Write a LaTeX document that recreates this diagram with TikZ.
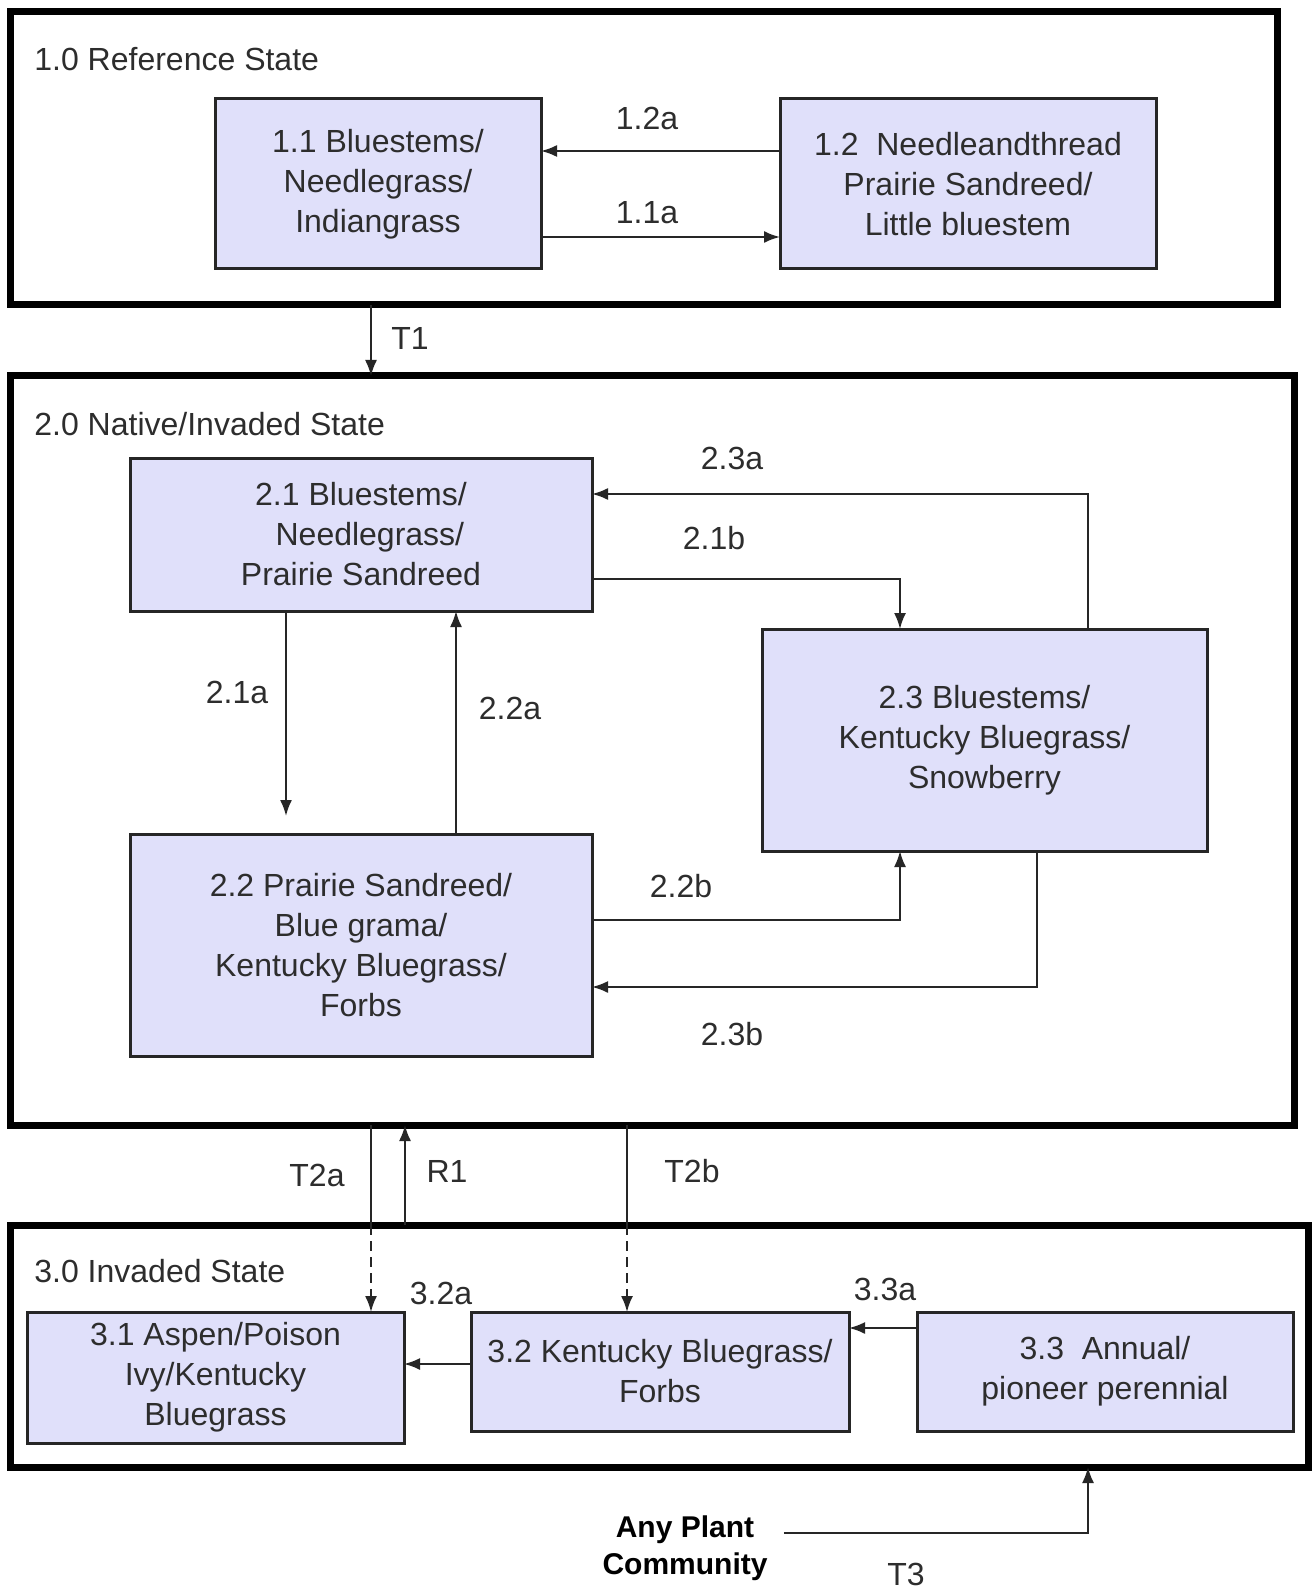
\documentclass[tikz,border=0pt]{standalone}
\usepackage{fontspec}
\setmainfont{Liberation Sans}
\usetikzlibrary{arrows.meta,calc}
\definecolor{boxfill}{RGB}{224,224,250}
\definecolor{txt}{RGB}{45,45,45}
\begin{document}
\begin{tikzpicture}[x=0.5pt,y=-0.5pt,
  every node/.style={text=txt, font=\fontsize{16}{20}\selectfont},
  state/.style={draw=black, line width=3.5pt, inner sep=0pt, outer sep=0pt},
  comm/.style={draw=black!85, fill=boxfill, line width=1.5pt, align=center, inner sep=0pt, outer sep=0pt},
  arr/.style={draw=black!85, line width=1pt, -{Latex[length=8pt,width=6pt]}},
  ln/.style={draw=black!85, line width=1pt},
  dsh/.style={arr, dashed, dash pattern=on 5pt off 3pt},
  lbl/.style={inner sep=0pt},
  title/.style={anchor=west, inner sep=0pt}]
\fill[white] (0,0) rectangle (1312,1593);
\useasboundingbox (0,0) rectangle (1312,1593);

% state boxes
\node[state, minimum width=633.5pt, minimum height=146.5pt] (s1) at (643.5,158.5) {};
\node[state, minimum width=642pt, minimum height=374.5pt] (s2) at (652,750.5) {};
\node[state, minimum width=649pt, minimum height=121pt] (s3) at (659,1346) {};

\node[title] (t1) at (34,59) {1.0 Reference State};
\node[title] (t2) at (34,424) {2.0 Native/Invaded State};
\node[title] (t3) at (34,1271) {3.0 Invaded State};

% community boxes
\node[comm, minimum width=163pt, minimum height=85pt] (b11) at (378,184) {1.1 Bluestems/\\Needlegrass/\\Indiangrass};
\node[comm, minimum width=188pt, minimum height=85pt] (b12) at (968,184) {1.2 \ Needleandthread\\Prairie Sandreed/\\Little bluestem};
\node[comm, minimum width=231pt, minimum height=76.5pt] (b21) at (361,534.5) {2.1 Bluestems/\\\ \ Needlegrass/\\Prairie Sandreed};
\node[comm, minimum width=231pt, minimum height=111pt] (b22) at (361,945) {2.2 Prairie Sandreed/\\Blue grama/\\Kentucky Bluegrass/\\Forbs};
\node[comm, minimum width=222.5pt, minimum height=111pt] (b23) at (984.5,740) {2.3 Bluestems/\\Kentucky Bluegrass/\\Snowberry};
\node[comm, minimum width=188.5pt, minimum height=65.5pt] (b31) at (215.5,1377.5) {3.1 Aspen/Poison\\Ivy/Kentucky\\Bluegrass};
\node[comm, minimum width=189pt, minimum height=59.5pt] (b32) at (660,1371.5) {3.2 Kentucky Bluegrass/\\Forbs};
\node[comm, minimum width=188pt, minimum height=59.5pt] (b33) at (1105,1371.5) {3.3 \ Annual/\\pioneer perennial};

\node[font=\bfseries\fontsize{15}{18.5}\selectfont, text=black, align=center, inner sep=0pt] (any) at (685,1548) {Any Plant\\Community};

% labels
\node[lbl] (l12a) at (647,118) {1.2a};
\node[lbl] (l11a) at (647,213) {1.1a};
\node[lbl] (lT1) at (410,338) {T1};
\node[lbl] (l23a) at (732,458) {2.3a};
\node[lbl] (l21b) at (714,538) {2.1b};
\node[lbl] (l21a) at (237,692) {2.1a};
\node[lbl] (l22a) at (510,708) {2.2a};
\node[lbl] (l22b) at (681,886) {2.2b};
\node[lbl] (l23b) at (732,1034) {2.3b};
\node[lbl] (lT2a) at (317,1175) {T2a};
\node[lbl] (lR1) at (447,1171) {R1};
\node[lbl] (lT2b) at (692,1171) {T2b};
\node[lbl] (l32a) at (441,1293) {3.2a};
\node[lbl] (l33a) at (885,1289) {3.3a};
\node[lbl] (lT3) at (906,1574) {T3};

% connectors
\draw[arr] (b12.west |- 0,151) -- (b11.east |- 0,151);
\draw[arr] (b11.east |- 0,237) -- (b12.west |- 0,237);
\draw[arr] (s1.south -| 371,0) -- (s2.north -| 371,0);
\draw[arr, shorten >=9pt] (b21.south -| 286,0) -- (b22.north -| 286,0);
\draw[arr] (b22.north -| 456,0) -- (b21.south -| 456,0);
\draw[arr] (b23.north -| 1088,0) |- (b21.east |- 0,494);
\draw[arr] (b21.east |- 0,579) -| (b23.north -| 900,0);
\draw[arr] (b22.east |- 0,920) -| (b23.south -| 900,0);
\draw[arr] (b23.south -| 1037,0) |- (b22.east |- 0,987);
\draw[ln] (s2.south -| 371,0) -- (s3.north -| 371,0);
\draw[dsh] (s3.north -| 371,0) -- (b31.north -| 371,0);
\draw[arr] (s3.north -| 405,0) -- (s2.south -| 405,0);
\draw[ln] (s2.south -| 627,0) -- (s3.north -| 627,0);
\draw[dsh] (s3.north -| 627,0) -- (b32.north -| 627,0);
\draw[arr] (b32.west |- 0,1364) -- (b31.east |- 0,1364);
\draw[arr] (b33.west |- 0,1328) -- (b32.east |- 0,1328);
\draw[arr] ([xshift=8pt]any.east |- 0,1533) -| (s3.south -| 1088,0);
\end{tikzpicture}
\end{document}
